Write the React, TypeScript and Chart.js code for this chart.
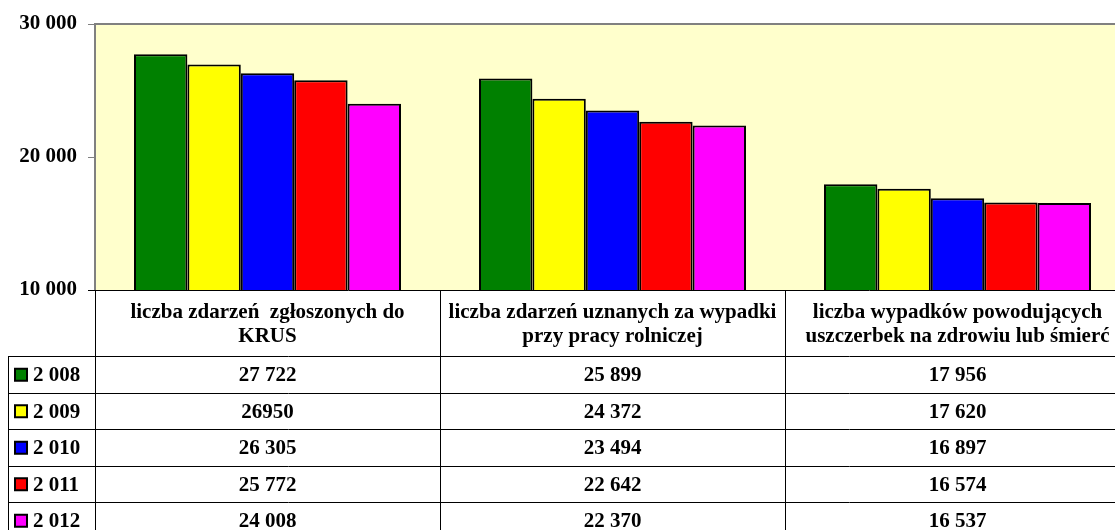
import React, { useEffect, useRef } from "react";
import { Chart, registerables } from "chart.js";

Chart.register(...registerables);

const categories: string[][] = [
  ["liczba zdarzeń  zgłoszonych do", "KRUS"],
  ["liczba zdarzeń uznanych za wypadki", "przy pracy rolniczej"],
  ["liczba wypadków powodujących", "uszczerbek na zdrowiu lub śmierć"],
];
const years = ["2 008", "2 009", "2 010", "2 011", "2 012"];
const values2008 = [27722, 25899, 17956];
const values2009 = [26950, 24372, 17620];
const values2010 = [26305, 23494, 16897];
const values2011 = [25772, 22642, 16574];
const values2012 = [24008, 22370, 16537];
const seriesColors = ["#008000", "#FFFF00", "#0000FF", "#FF0000", "#FF00FF"];
// cells shown without thousands grouping in the source table: [series, category]
const ungroupedCells: [number, number][] = [[1, 0]];
const yTicks = [10000, 20000, 30000];

const FONT = '"Liberation Serif", "Times New Roman", serif';

function fmt(v: number): string {
  return String(v).replace(/\B(?=(\d{3})+(?!\d))/g, " ");
}

const W = 1135;
const H = 560;

export default function App() {
  const ref = useRef<HTMLCanvasElement | null>(null);

  useEffect(() => {
    if (!ref.current) return;
    const series = [values2008, values2009, values2010, values2011, values2012];

    const bgPlugin = {
      id: "bg",
      beforeDraw(chart: any) {
        const { ctx, chartArea: a } = chart;
        ctx.save();
        ctx.fillStyle = "#FFFFCC";
        ctx.fillRect(a.left, a.top, a.right - a.left, a.bottom - a.top);
        ctx.restore();
      },
      afterDatasetsDraw(chart: any) {
        const { ctx, chartArea: a } = chart;
        ctx.save();
        ctx.strokeStyle = "#808080";
        ctx.lineWidth = 2;
        ctx.beginPath();
        ctx.moveTo(a.left, a.top);
        ctx.lineTo(a.right, a.top);
        ctx.stroke();
        ctx.restore();
      },
    };

    const tablePlugin = {
      id: "table",
      afterDraw(chart: any) {
        const { ctx, chartArea: a } = chart;
        const x = chart.scales.x;
        const catW = x.getPixelForValue(1) - x.getPixelForValue(0);
        const bounds = categories.map((_, i) => x.getPixelForValue(i) - catW / 2);
        bounds.push(x.getPixelForValue(categories.length - 1) + catW / 2);
        const top = a.bottom;
        const headerH = 66;
        const rowH = 36.5;
        const rowsTop = top + headerH;
        const bottom = rowsTop + rowH * years.length;

        ctx.save();
        ctx.strokeStyle = "#000";
        ctx.lineWidth = 1;
        ctx.beginPath();
        ctx.moveTo(a.left - 7, Math.round(top) + 0.5);
        ctx.lineTo(bounds[bounds.length - 1], Math.round(top) + 0.5);
        ctx.stroke();
        bounds.forEach((b) => {
          ctx.beginPath();
          ctx.moveTo(Math.round(b) + 0.5, top);
          ctx.lineTo(Math.round(b) + 0.5, bottom);
          ctx.stroke();
        });
        ctx.beginPath();
        ctx.moveTo(0.5, rowsTop);
        ctx.lineTo(0.5, bottom);
        ctx.stroke();
        for (let r = 0; r <= years.length; r++) {
          const y = Math.round(rowsTop + r * rowH) + 0.5;
          ctx.beginPath();
          ctx.moveTo(0, y);
          ctx.lineTo(bounds[bounds.length - 1], y);
          ctx.stroke();
        }

        ctx.fillStyle = "#000";
        ctx.font = `bold 21px ${FONT}`;
        ctx.textAlign = "center";
        ctx.textBaseline = "middle";
        categories.forEach((lines, i) => {
          const cx = (bounds[i] + bounds[i + 1]) / 2;
          lines.forEach((ln, k) => {
            ctx.fillText(ln, cx, top + 23 + k * 24);
          });
        });
        series.forEach((vals, s) => {
          const cy = rowsTop + s * rowH + rowH / 2 + 1.5;
          vals.forEach((v, c) => {
            const cx = (bounds[c] + bounds[c + 1]) / 2;
            const raw = ungroupedCells.some(([ss, cc]) => ss === s && cc === c);
            ctx.fillText(raw ? String(v) : fmt(v), cx, cy);
          });
          ctx.fillStyle = seriesColors[s];
          ctx.fillRect(7, cy - 7, 12, 12);
          ctx.strokeStyle = "#000";
          ctx.lineWidth = 2;
          ctx.strokeRect(7, cy - 7, 12, 12);
          ctx.fillStyle = "#000";
          ctx.textAlign = "left";
          ctx.fillText(years[s], 25, cy);
          ctx.textAlign = "center";
        });
        ctx.restore();
      },
    };

    const chart = new Chart(ref.current, {
      type: "bar",
      data: {
        labels: categories.map((c) => c.join(" ")),
        datasets: series.map((vals, i) => ({
          label: years[i],
          data: vals,
          backgroundColor: seriesColors[i],
          borderColor: "#000",
          borderWidth: 2,
          categoryPercentage: 0.774,
          barPercentage: 1.0,
        })),
      },
      options: {
        responsive: false,
        animation: false,
        devicePixelRatio: 1,
        layout: { padding: { top: 16, left: 0, right: W - 1122, bottom: H - 282 } },
        plugins: { legend: { display: false }, tooltip: { enabled: false } },
        scales: {
          x: { display: false, offset: true },
          y: {
            min: yTicks[0],
            max: yTicks[yTicks.length - 1],
            afterFit: (scale: any) => {
              scale.width = 87;
              scale.paddingTop = 0;
              scale.paddingBottom = 0;
            },
            afterBuildTicks: (scale: any) => {
              scale.ticks = yTicks.map((v) => ({ value: v }));
            },
            grid: {
              drawOnChartArea: false,
              drawTicks: true,
              tickLength: 7,
              tickColor: "#808080",
              lineWidth: 1,
            },
            border: { display: true, color: "#808080", width: 2 },
            ticks: {
              padding: 11,
              color: "#000",
              font: { family: FONT, size: 21, weight: "bold" },
              callback: (v: any) => fmt(Number(v)),
            },
          },
        },
      },
      plugins: [bgPlugin, tablePlugin],
    });
    return () => chart.destroy();
  }, []);

  return (
    <div
      style={{
        position: "fixed",
        left: 8,
        top: 8,
        width: 1107,
        height: 522,
        overflow: "hidden",
        background: "#fff",
      }}
    >
      <canvas ref={ref} width={W} height={H} style={{ display: "block" }} />
    </div>
  );
}
